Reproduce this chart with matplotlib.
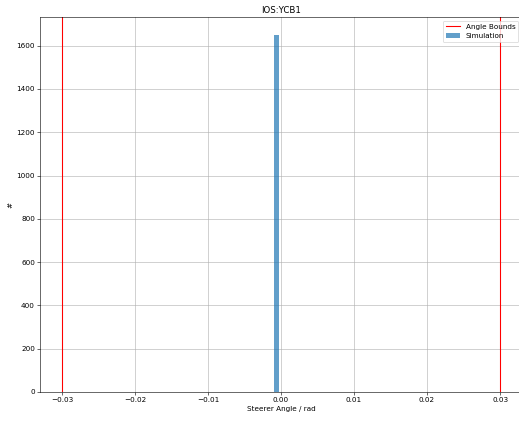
import numpy as np
import matplotlib
matplotlib.use("Agg")
import matplotlib.pyplot as plt

# Histogram of simulated steerer angles
bin_edges = [-0.00092, -0.00027]
counts = [1650]
angle_bounds = [-0.03, 0.03]

fig = plt.figure(figsize=(519 / 52, 421 / 52), dpi=52)
ax = fig.add_axes([40 / 519, 29 / 421, 482 / 519, 375 / 421])

for i, b in enumerate(angle_bounds):
    ax.axvline(b, color="red", label="Angle Bounds" if i == 0 else None)

ax.hist(bin_edges[:-1], bins=bin_edges, weights=counts, color="tab:blue",
        alpha=0.7, label="Simulation")

ax.set_xlim(-0.033, 0.033)
ax.set_ylim(0, 1650 * 1.05)
ax.grid(True)
ax.set_axisbelow(True)
ax.set_title("IOS:YCB1")
ax.set_xlabel("Steerer Angle / rad")
ax.set_ylabel("#")
ax.legend(loc="upper right")

fig.savefig("out.png", dpi=52)
